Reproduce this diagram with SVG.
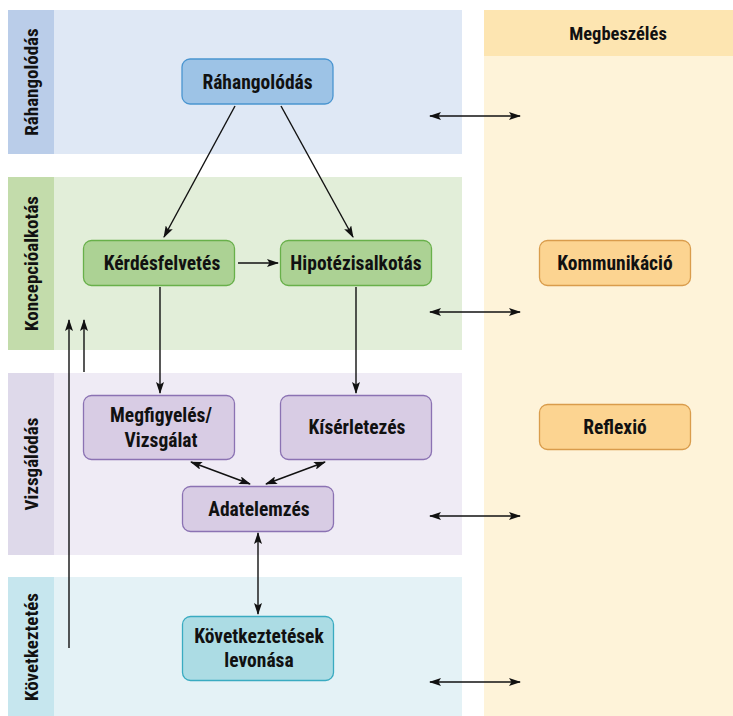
<svg xmlns="http://www.w3.org/2000/svg" width="733" height="716" viewBox="0 0 733 716">
<style>
text{font-family:"Liberation Sans Narrow","Roboto Condensed","Liberation Sans",Arial,sans-serif;font-weight:bold;font-size:19.5px;fill:#111;text-anchor:middle;}
.lane{font-size:19px;}
.n rect{stroke-width:1.3;}
.blue rect{fill:#9dc3e6;stroke:#4a95d0;}
.green rect{fill:#acd294;stroke:#68b04a;}
.purple rect{fill:#d8cce4;stroke:#8b72b3;}
.cyan rect{fill:#acdce4;stroke:#3aabc1;}
.orange rect{fill:#fcd491;stroke:#d99c4c;}
#connectors line{stroke:#111;stroke-width:1.4;fill:none;}
</style>
<defs>
<marker id="ah" viewBox="0 0 12 8" refX="11" refY="4" markerWidth="12" markerHeight="8" markerUnits="userSpaceOnUse" orient="auto-start-reverse">
<path d="M0,0 L12,4 L0,8 L2.5,4 Z" fill="#111"/>
</marker>
</defs>
<rect width="733" height="716" fill="#fff"/>
<!-- lanes -->
<g id="lane-rahangolodas">
<rect x="8" y="10" width="454" height="144" fill="#dfe8f5"/>
<rect x="8" y="10" width="46" height="144" fill="#bacde9"/>
<text class="lane" transform="translate(38,82) rotate(-90)">Ráhangolódás</text>
</g>
<g id="lane-koncepcio">
<rect x="8" y="177" width="454" height="173" fill="#e2eed9"/>
<rect x="8" y="177" width="46" height="173" fill="#c3dcab"/>
<text class="lane" transform="translate(38,263.5) rotate(-90)">Koncepcióalkotás</text>
</g>
<g id="lane-vizsgalodas">
<rect x="8" y="373" width="454" height="182" fill="#efebf5"/>
<rect x="8" y="373" width="46" height="182" fill="#ded9ea"/>
<text class="lane" transform="translate(38,464) rotate(-90)">Vizsgálódás</text>
</g>
<g id="lane-kovetkeztetes">
<rect x="8" y="577" width="454" height="139" fill="#e4f2f6"/>
<rect x="8" y="577" width="46" height="139" fill="#c6e6ee"/>
<text class="lane" transform="translate(38,647) rotate(-90)">Következtetés</text>
</g>
<g id="col-megbeszeles">
<rect x="484" y="10" width="249" height="706" fill="#fef3d9"/>
<rect x="484" y="10" width="249" height="46" fill="#fde5b1"/>
<text x="618" y="39.5" style="font-size:18.5px">Megbeszélés</text>
</g>
<!-- nodes -->
<g id="n-rahangolodas" class="n blue">
<rect x="182" y="59" width="151" height="45" rx="8"/>
<text x="257.5" y="88.5">Ráhangolódás</text>
</g>
<g id="n-kerdesfelvetes" class="n green">
<rect x="83.5" y="240.5" width="151" height="45" rx="8"/>
<text x="162" y="270">Kérdésfelvetés</text>
</g>
<g id="n-hipotezisalkotas" class="n green">
<rect x="280.5" y="240.5" width="151" height="45" rx="8"/>
<text x="356" y="270">Hipotézisalkotás</text>
</g>
<g id="n-megfigyeles" class="n purple">
<rect x="83.5" y="395.5" width="151" height="64" rx="8"/>
<text x="161" y="422">Megfigyelés/</text>
<text x="161" y="447">Vizsgálat</text>
</g>
<g id="n-kiserletezes" class="n purple">
<rect x="280.5" y="395.5" width="151" height="64" rx="8"/>
<text x="357" y="434">Kísérletezés</text>
</g>
<g id="n-adatelemzes" class="n purple">
<rect x="182.5" y="486.5" width="151" height="45" rx="8"/>
<text x="259" y="516">Adatelemzés</text>
</g>
<g id="n-kovetkeztetesek" class="n cyan">
<rect x="182.5" y="616.5" width="151" height="64" rx="8"/>
<text x="259" y="643">Következtetések</text>
<text x="259" y="667">levonása</text>
</g>
<g id="n-kommunikacio" class="n orange">
<rect x="539.5" y="240.5" width="151" height="45" rx="8"/>
<text x="615" y="270">Kommunikáció</text>
</g>
<g id="n-reflexio" class="n orange">
<rect x="539.5" y="404.5" width="151" height="45" rx="8"/>
<text x="615" y="434">Reflexió</text>
</g>
<!-- connectors -->
<g id="connectors">
<line x1="235" y1="106" x2="164" y2="237" marker-end="url(#ah)"/>
<line x1="281" y1="106" x2="353" y2="237" marker-end="url(#ah)"/>
<line x1="238" y1="263" x2="278" y2="263" marker-end="url(#ah)"/>
<line x1="160" y1="287" x2="160" y2="393" marker-end="url(#ah)"/>
<line x1="356" y1="287" x2="356" y2="393" marker-end="url(#ah)"/>
<line x1="191" y1="462" x2="250" y2="484" marker-start="url(#ah)" marker-end="url(#ah)"/>
<line x1="325" y1="462" x2="266" y2="484" marker-start="url(#ah)" marker-end="url(#ah)"/>
<line x1="258" y1="533" x2="258" y2="614" marker-start="url(#ah)" marker-end="url(#ah)"/>
<line x1="69" y1="648" x2="69" y2="320" marker-end="url(#ah)"/>
<line x1="84" y1="372" x2="84" y2="320" marker-end="url(#ah)"/>
<line x1="430" y1="116" x2="520" y2="116" marker-start="url(#ah)" marker-end="url(#ah)"/>
<line x1="430" y1="312" x2="520" y2="312" marker-start="url(#ah)" marker-end="url(#ah)"/>
<line x1="430" y1="516" x2="520" y2="516" marker-start="url(#ah)" marker-end="url(#ah)"/>
<line x1="430" y1="682" x2="520" y2="682" marker-start="url(#ah)" marker-end="url(#ah)"/>
</g>
</svg>
